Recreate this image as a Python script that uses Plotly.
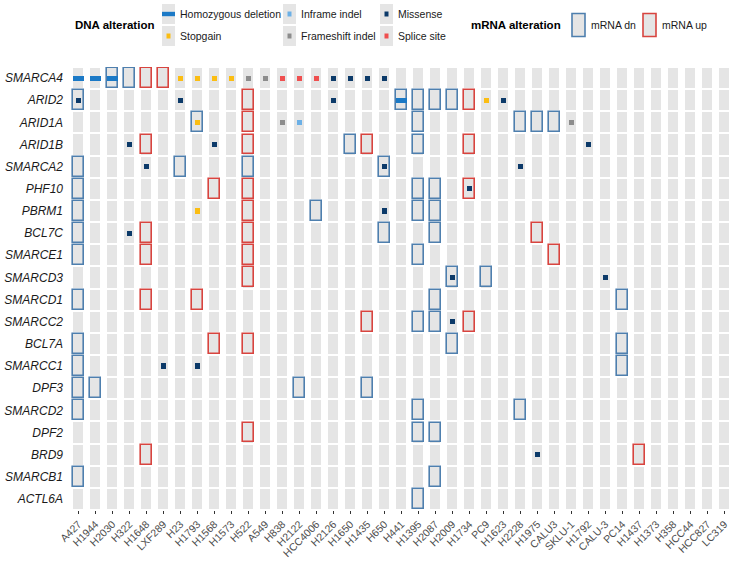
import plotly.graph_objects as go

samples = ["A427","H1944","H2030","H322","H1648","LXF289","H23","H1793","H1568","H1573",
           "H522","A549","H838","H2122","HCC4006","H2126","H1650","H1435","H650","H441",
           "H1395","H2087","H2009","H1734","PC9","H1623","H2228","H1975","CALU3","SKLU-1",
           "H1792","CALU-3","PC14","H1437","H1373","H358","HCC44","HCC827","LC319"]
genes = ["SMARCA4","ARID2","ARID1A","ARID1B","SMARCA2","PHF10","PBRM1","BCL7C","SMARCE1",
         "SMARCD3","SMARCD1","SMARCC2","BCL7A","SMARCC1","DPF3","SMARCD2","DPF2","BRD9",
         "SMARCB1","ACTL6A"]

# (gene, sample) pairs per alteration type
homdel = [("SMARCA4","A427"),("SMARCA4","H1944"),("SMARCA4","H2030"),("ARID2","H441")]
stopgain = [("SMARCA4","H23"),("SMARCA4","H1793"),("SMARCA4","H1568"),("SMARCA4","H1573"),
            ("ARID2","PC9"),("ARID1A","H1793"),("PBRM1","H1793")]
frameshift = [("SMARCA4","H522"),("SMARCA4","A549"),("ARID1A","H838"),("ARID1A","SKLU-1")]
splice = [("SMARCA4","H838"),("SMARCA4","H2122"),("SMARCA4","HCC4006")]
inframe = [("ARID1A","H2122")]
missense = [("SMARCA4","H2126"),("SMARCA4","H1650"),("SMARCA4","H1435"),("SMARCA4","H650"),
            ("ARID2","A427"),("ARID2","H23"),("ARID2","H2126"),("ARID2","H1623"),
            ("ARID1B","H322"),("ARID1B","H1568"),("ARID1B","H1792"),
            ("SMARCA2","H1648"),("SMARCA2","H650"),("SMARCA2","H2228"),
            ("PHF10","H1734"),("PBRM1","H650"),("BCL7C","H322"),
            ("SMARCD3","H2009"),("SMARCD3","CALU-3"),("SMARCC2","H2009"),
            ("SMARCC1","LXF289"),("SMARCC1","H1793"),("BRD9","H1975")]
mrna_dn = [("SMARCA4","H2030"),("SMARCA4","H322"),
           ("ARID2","A427"),("ARID2","H441"),("ARID2","H1395"),("ARID2","H2087"),("ARID2","H2009"),
           ("ARID1A","H1793"),("ARID1A","H1395"),("ARID1A","H2228"),("ARID1A","H1975"),("ARID1A","CALU3"),
           ("ARID1B","H1650"),("ARID1B","H1395"),
           ("SMARCA2","A427"),("SMARCA2","H23"),("SMARCA2","H522"),("SMARCA2","H650"),
           ("PHF10","A427"),("PHF10","H1395"),("PHF10","H2087"),
           ("PBRM1","A427"),("PBRM1","HCC4006"),("PBRM1","H1395"),("PBRM1","H2087"),
           ("BCL7C","A427"),("BCL7C","H650"),("BCL7C","H2087"),
           ("SMARCE1","A427"),("SMARCE1","H1395"),
           ("SMARCD3","H2009"),("SMARCD3","PC9"),
           ("SMARCD1","A427"),("SMARCD1","H2087"),("SMARCD1","PC14"),
           ("SMARCC2","H1395"),("SMARCC2","H2087"),
           ("BCL7A","A427"),("BCL7A","H2009"),("BCL7A","PC14"),
           ("SMARCC1","A427"),("SMARCC1","PC14"),
           ("DPF3","A427"),("DPF3","H1944"),("DPF3","H2122"),("DPF3","H1435"),
           ("SMARCD2","A427"),("SMARCD2","H1395"),("SMARCD2","H2228"),
           ("DPF2","H1395"),("DPF2","H2087"),
           ("SMARCB1","A427"),("SMARCB1","H2087"),
           ("ACTL6A","H1395")]
mrna_up = [("SMARCA4","H1648"),("SMARCA4","LXF289"),
           ("ARID2","H522"),("ARID2","H1734"),
           ("ARID1A","H522"),
           ("ARID1B","H1648"),("ARID1B","H522"),("ARID1B","H1435"),("ARID1B","H1734"),
           ("PHF10","H1568"),("PHF10","H522"),("PHF10","H1734"),
           ("PBRM1","H522"),
           ("BCL7C","H1648"),("BCL7C","H522"),("BCL7C","H1975"),
           ("SMARCE1","H1648"),("SMARCE1","H522"),("SMARCE1","CALU3"),
           ("SMARCD3","H522"),
           ("SMARCD1","H1648"),("SMARCD1","H1793"),
           ("SMARCC2","H1435"),("SMARCC2","H1734"),
           ("BCL7A","H1568"),("BCL7A","H522"),
           ("DPF2","H522"),
           ("BRD9","H1648"),("BRD9","H1437")]

GRAY = "#e5e5e5"
COL = {"homdel": "#1b79c6", "stopgain": "#fbbd12", "frameshift": "#8c8c8c",
       "splice": "#ef4f4f", "inframe": "#6cb0e6", "missense": "#0c3a69",
       "dn": "#4e7fae", "up": "#d8443f"}
FONT = "Liberation Sans, Arial, sans-serif"

gidx = {g: i for i, g in enumerate(genes)}

fig = go.Figure()
fig.add_trace(go.Heatmap(z=[[1] * len(samples) for _ in genes], x=samples, y=list(range(len(genes))),
                         colorscale=[[0, GRAY], [1, GRAY]], showscale=False, xgap=7, ygap=2,
                         hoverinfo="skip"))


def box_trace(pairs, color):
    h = 0.9
    return go.Bar(x=[s for g, s in pairs], y=[h] * len(pairs),
                  base=[gidx[g] - h / 2 for g, s in pairs], width=0.62,
                  marker=dict(color=GRAY, line=dict(color=color, width=1.6)),
                  showlegend=False, hoverinfo="skip")


def mark_trace(pairs, color, w, h):
    return go.Bar(x=[s for g, s in pairs], y=[h] * len(pairs),
                  base=[gidx[g] - h / 2 for g, s in pairs], width=w,
                  marker=dict(color=color, line=dict(width=0)),
                  showlegend=False, hoverinfo="skip")


fig.add_trace(box_trace(mrna_dn, COL["dn"]))
fig.add_trace(box_trace(mrna_up, COL["up"]))
fig.add_trace(mark_trace(homdel, COL["homdel"], 0.6, 0.22))
for key, pairs in [("stopgain", stopgain), ("frameshift", frameshift), ("splice", splice),
                   ("inframe", inframe), ("missense", missense)]:
    fig.add_trace(mark_trace(pairs, COL[key], 0.25, 0.23))

# ---- plot-area pixel geometry for legend placement ----
W, H = 735, 565
L, R, T, B = 70, 2, 67, 55
PW, PH = W - L - R, H - T - B


def px(x):
    return (x - L) / PW


def py(y):
    return (H - B - y) / PH


shapes = []
ann = []
for txt, x0 in [("<b>DNA alteration</b>", 73), ("<b>mRNA alteration</b>", 469)]:
    ann.append(dict(text=txt, x=px(x0), y=py(25), xanchor="left", yanchor="middle",
                    showarrow=False, xref="paper", yref="paper",
                    font=dict(size=11.5, color="#000000", family=FONT)))

dna_items = [("Homozygous deletion", "homdel", 168.5, 14), ("Stopgain", "stopgain", 168.5, 36),
             ("Inframe indel", "inframe", 289.5, 14), ("Frameshift indel", "frameshift", 289.5, 36),
             ("Missense", "missense", 386.5, 14), ("Splice site", "splice", 386.5, 36)]
for label, key, cx, cy in dna_items:
    shapes.append(dict(type="rect", xref="paper", yref="paper", x0=px(cx - 6.5), x1=px(cx + 6.5),
                       y0=py(cy + 10), y1=py(cy - 10), fillcolor=GRAY, line=dict(width=0), layer="above"))
    if key == "homdel":
        shapes.append(dict(type="rect", xref="paper", yref="paper", x0=px(cx - 6.5), x1=px(cx + 6.5),
                           y0=py(cy + 2.2), y1=py(cy - 2.2), fillcolor=COL[key], line=dict(width=0), layer="above"))
    else:
        shapes.append(dict(type="rect", xref="paper", yref="paper", x0=px(cx - 2), x1=px(cx + 2),
                           y0=py(cy + 2.5), y1=py(cy - 2.5), fillcolor=COL[key], line=dict(width=0), layer="above"))
    ann.append(dict(text=label, x=px(cx + 9), y=py(cy), xanchor="left", yanchor="middle",
                    showarrow=False, xref="paper", yref="paper",
                    font=dict(size=10.5, color="#1a1a1a", family=FONT)))

for label, key, cx in [("mRNA dn", "dn", 578.5), ("mRNA up", "up", 649.5)]:
    shapes.append(dict(type="rect", xref="paper", yref="paper", x0=px(cx - 6.5), x1=px(cx + 6.5),
                       y0=py(25 + 11.5), y1=py(25 - 11.5), fillcolor=GRAY,
                       line=dict(width=1.6, color=COL[key]), layer="above"))
    ann.append(dict(text=label, x=px(cx + 10), y=py(25), xanchor="left", yanchor="middle",
                    showarrow=False, xref="paper", yref="paper",
                    font=dict(size=10.5, color="#1a1a1a", family=FONT)))

fig.update_layout(
    width=W, height=H, margin=dict(l=L, r=R, t=T, b=B, autoexpand=False),
    paper_bgcolor="white", plot_bgcolor="white", barmode="overlay", bargap=0,
    shapes=shapes, annotations=ann,
    font=dict(family=FONT, size=11),
)
fig.update_xaxes(type="category", categoryorder="array", categoryarray=samples, automargin=False,
                 range=[-0.5, len(samples) - 0.5], tickangle=-45, ticks="outside", ticklen=3,
                 tickcolor="#333333", tickwidth=1, showgrid=False, zeroline=False, showline=False,
                 tickfont=dict(size=10.5, color="#4d4d4d", family=FONT))
fig.update_yaxes(range=[len(genes) - 0.5, -0.5], tickmode="array", tickvals=list(range(len(genes))),
                 ticktext=[f"<i>{g}</i>" for g in genes], ticks="", showgrid=False, zeroline=False,
                 showline=False, ticklabelstandoff=6, automargin=False,
                 tickfont=dict(size=12, color="#1a1a1a", family=FONT))

fig.write_html("out.html", config={"displayModeBar": False},
               post_script="document.body.style.margin='0px';document.body.style.overflow='hidden';")
